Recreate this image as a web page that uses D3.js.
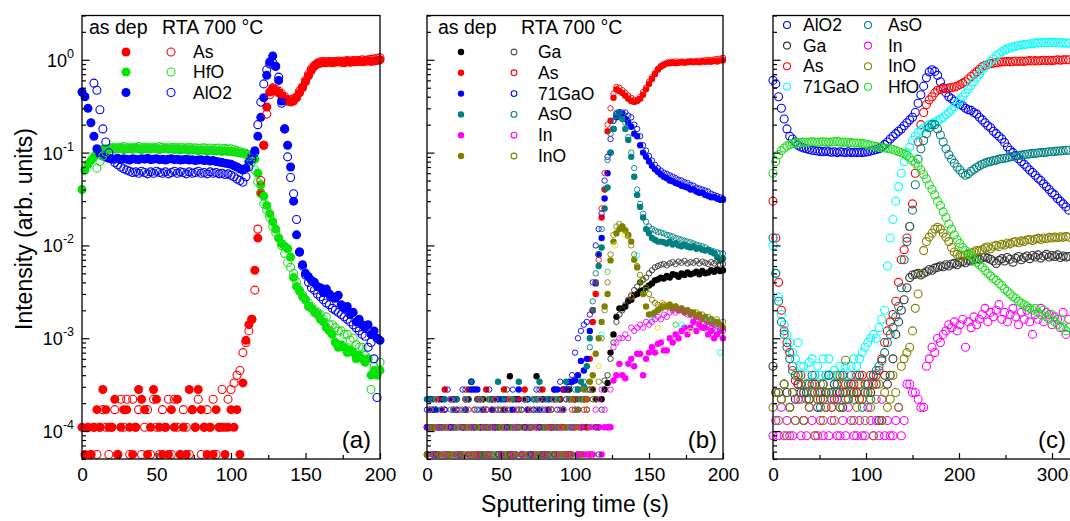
<!DOCTYPE html>
<html><head><meta charset="utf-8">
<script src="https://cdn.jsdelivr.net/npm/d3@7"></script>
<style>body{margin:0;background:#fff}</style>
</head><body><svg id="chart" width="1070" height="521"></svg>
<script>
// ---------- sampling times ----------
const time2s = [0,2,4,6,8,10,12,14,16,18,20,22,24,26,28,30,32,34,36,38,40,42,44,46,48,50,52,54,56,58,60,62,64,66,68,70,72,74,76,78,80,82,84,86,88,90,92,94,96,98,100,102,104,106,108,110,112,114,116,118,120,122,124,126,128,130,132,134,136,138,140,142,144,146,148,150,152,154,156,158,160,162,164,166,168,170,172,174,176,178,180,182,184,186,188,190,192,194,196,198,200];
const time3s = [0,3,6,9,12,15,18,21,24,27,30,33,36,39,42,45,48,51,54,57,60,63,66,69,72,75,78,81,84,87,90,93,96,99,102,105,108,111,114,117,120,123,126,129,132,135,138,141,144,147,150,153,156,159,162,165,168,171,174,177,180,183,186,189,192,195,198,201,204,207,210,213,216,219,222,225,228,231,234,237,240,243,246,249,252,255,258,261,264,267,270,273,276,279,282,285,288,291,294,297,300,303,306,309,312,315,318];

// ---------- panel (a) ----------
const aAlO2Dep = [0.45,0.40,0.30,0.21,0.15,0.11,0.097,0.092,0.089,0.087,
0.086,0.085,0.087,0.084,0.086,0.085,0.083,0.086,0.085,0.084,0.086,0.085,0.087,0.084,0.085,0.086,0.084,0.085,0.083,0.085,0.086,0.084,0.085,0.083,0.084,0.085,0.083,0.084,0.082,0.083,0.084,0.082,0.083,0.081,0.082,
0.08,0.079,0.078,0.077,0.076,0.075,0.072,0.07,0.067,0.065,0.068,0.08,0.092,0.105,0.15,0.24,0.39,0.68,0.95,1.1,0.85,0.6,0.36,0.18,0.12,0.07,0.03,0.013,0.0085,0.0062,0.005,0.0046,0.0042,0.004,0.0036,0.0035,0.0031,0.0034,0.003,0.0028,0.0027,0.0029,0.0023,0.0021,0.0022,0.0018,0.0019,0.0015,0.0016,0.0014,0.0013,0.0014,0.0011,0.0012,0.001,0.00095];
const aAlO2Rta = [null,null,null,null,0.56,0.47,0.29,0.18,0.13,0.1,0.085,0.078,0.074,0.07,0.067,0.065,
0.063,0.061,0.062,0.06,0.063,0.061,0.059,0.062,0.06,0.063,0.061,0.06,0.062,0.059,0.061,0.063,0.06,0.062,0.061,0.059,0.062,0.06,0.061,0.063,0.06,0.061,0.059,0.062,0.06,0.061,0.059,0.06,0.058,0.059,
0.057,0.055,0.052,0.05,0.048,0.055,0.07,0.085,0.1,0.2,0.35,0.55,0.78,0.9,0.93,0.85,0.65,0.34,0.18,0.09,0.054,0.036,0.019,0.0085,0.006,0.0048,0.004,0.0035,0.0033,0.003,0.0028,0.0026,0.0024,0.0023,0.0021,0.002,0.0019,0.0018,0.0017,0.0016,0.0015,0.0014,0.0013,0.0012,0.0011,0.00105,0.0008,0.0009,0.0006,0.00023,null];
const aHfODep = [0.04,0.065,0.075,0.082,0.09,0.1,0.105,0.108,0.11,0.11,
0.111,0.109,0.11,0.112,0.108,0.11,0.111,0.109,0.112,0.11,0.108,0.111,0.11,0.109,0.112,0.11,0.108,0.11,0.111,0.109,0.11,0.108,0.109,0.107,0.109,0.108,0.106,0.108,0.107,0.105,0.107,0.106,0.104,0.106,0.105,0.104,0.105,0.103,0.104,0.103,
0.103,0.102,0.1,0.099,0.098,0.096,0.094,0.09,0.085,0.06,0.045,0.034,0.027,0.022,0.018,0.015,0.012,0.0105,0.0098,0.0092,0.0075,0.0045,0.0036,0.0032,0.0028,0.0026,0.0022,0.0021,0.0019,0.0018,0.0016,0.0015,0.0013,0.0012,0.0011,0.0009,0.0008,0.00085,0.0008,0.0007,0.00075,0.0007,0.0006,0.00065,0.0006,0.00055,0.0006,0.0004,0.00045,0.0004,0.00045];
const aHfORta = [null,null,null,null,null,0.068,0.08,0.092,0.1,0.108,
0.113,0.115,0.112,0.114,0.116,0.113,0.115,0.112,0.114,0.116,0.113,0.115,0.114,0.112,0.115,0.113,0.116,0.114,0.112,0.115,0.113,0.114,0.112,0.115,0.113,0.112,0.114,0.112,0.113,0.111,0.112,0.113,0.111,0.112,0.11,0.111,0.112,0.11,0.111,0.109,0.11,
0.108,0.105,0.102,0.1,0.098,0.09,0.08,0.065,0.048,0.036,0.028,0.024,0.02,0.016,0.0138,0.012,0.01,0.0082,0.0065,0.0058,0.005,0.004,0.0033,0.0029,0.0026,0.0024,0.0022,0.002,0.0019,0.0018,0.0016,0.0017,0.0014,0.0014,0.0013,0.0012,0.0012,0.0011,0.0011,0.00095,0.001,0.00085,0.0008,0.0008,0.00065,0.0006,0.00028,0.0005,0.00045,0.00055];
const aAsDep = [1.1e-4,5.6e-5,1.1e-4,5.6e-5,1.1e-4,1.7e-4,1.1e-4,2.8e-4,1.7e-4,1.1e-4,
1.1e-4,2.2e-4,5.6e-5,1.1e-4,1.7e-4,1.7e-4,1.1e-4,5.6e-5,1.1e-4,2.8e-4,
2.2e-4,1.7e-4,5.6e-5,1.1e-4,2.8e-4,2.2e-4,1.1e-4,5.6e-5,1.1e-4,5.6e-5,
1.7e-4,1.1e-4,2.2e-4,5.6e-5,1.1e-4,5.6e-5,2.8e-4,1.7e-4,1.1e-4,2.8e-4,
1.7e-4,1.1e-4,5.6e-5,1.1e-4,5.6e-5,1.7e-4,1.1e-4,1.1e-4,5.6e-5,1.1e-4,
1.7e-4,1.1e-4,1.7e-4,5.6e-5,
3.3e-4,9.5e-4,1.4e-3,1.6e-3,5.4e-3,0.012,0.037,0.12,0.31,0.45,0.49,0.46,0.44,0.41,0.38,0.36,0.35,0.36,0.39,0.44,0.5,0.58,0.67,0.77,0.85,0.9,0.92,0.93,0.93,0.94,0.93,0.94,0.95,0.94,0.93,0.95,0.94,0.95,0.95,0.96,0.95,0.96,0.97,0.96,0.97,0.98,1.0];
const aAsRta = [null,null,null,
5.6e-5,1.1e-4,5.6e-5,1.1e-4,1.7e-4,1.1e-4,5.6e-5,1.1e-4,1.7e-4,5.6e-5,
2.2e-4,1.1e-4,2.2e-4,5.6e-5,2.2e-4,1.1e-4,1.7e-4,5.6e-5,1.1e-4,1.7e-4,
5.6e-5,2.2e-4,1.1e-4,5.6e-5,1.7e-4,1.1e-4,2.2e-4,5.6e-5,2.2e-4,1.1e-4,
5.6e-5,1.7e-4,1.1e-4,5.6e-5,1.7e-4,1.1e-4,2.2e-4,5.6e-5,1.1e-4,1.7e-4,
1.1e-4,2.2e-4,5.6e-5,1.1e-4,2.8e-4,1.1e-4,2.2e-4,2.8e-4,
3.3e-4,4e-4,4.5e-4,7e-4,9e-4,1.2e-3,1.6e-3,3.3e-3,0.015,0.05,0.12,0.26,0.42,0.5,0.48,0.46,0.43,0.4,0.37,0.37,0.38,0.4,0.46,0.51,0.6,0.7,0.8,0.87,0.92,0.95,0.96,0.95,0.96,0.95,0.96,0.97,0.96,0.97,0.98,0.97,0.98,0.99,0.98,1.0,0.99,1.0,1.01,1.02,1.04,1.05];

// ---------- panel (b) ----------
const bGaDep = [1.1e-4,2.2e-4,1.1e-4,5.6e-5,1.1e-4,2.2e-4,1.1e-4,5.6e-5,1.1e-4,1.1e-4,
2.2e-4,5.6e-5,1.1e-4,1.1e-4,2.2e-4,3.4e-4,1.1e-4,5.6e-5,1.1e-4,2.2e-4,
1.1e-4,1.1e-4,2.2e-4,5.6e-5,1.1e-4,2.2e-4,1.1e-4,5.6e-5,3.9e-4,1.1e-4,
2.2e-4,1.1e-4,5.6e-5,2.2e-4,1.1e-4,1.1e-4,5.6e-5,3.9e-4,1.1e-4,2.2e-4,
1.1e-4,5.6e-5,1.1e-4,2.2e-4,1.1e-4,2.2e-4,5.6e-5,1.1e-4,2.8e-4,1.1e-4,
2.2e-4,5.6e-5,1.1e-4,2.2e-4,1.1e-4,5.6e-5,2.8e-4,2.2e-4,1.1e-4,2.2e-4,2.8e-4,
3.3e-4,7e-4,1.1e-3,1.7e-3,2.1e-3,2.1e-3,2.2e-3,2.5e-3,2.6e-3,2.9e-3,3e-3,3.2e-3,3.3e-3,3.5e-3,3.7e-3,3.9e-3,4.2e-3,4.3e-3,4.5e-3,4.4e-3,4.7e-3,4.5e-3,4.9e-3,4.8e-3,4.6e-3,5e-3,4.8e-3,5.1e-3,4.9e-3,5e-3,5.2e-3,4.9e-3,5.3e-3,5e-3,5.1e-3,5.4e-3,5.2e-3,5.5e-3,5.3e-3,5.4e-3];
const bGaRta = [5.6e-5,1.1e-4,1.7e-4,5.6e-5,2.2e-4,1.1e-4,1.7e-4,5.6e-5,1.1e-4,2.2e-4,
5.6e-5,1.7e-4,1.1e-4,2.8e-4,5.6e-5,1.1e-4,1.7e-4,2.2e-4,5.6e-5,1.1e-4,
1.7e-4,5.6e-5,2.2e-4,1.1e-4,5.6e-5,1.7e-4,1.1e-4,2.8e-4,5.6e-5,2.2e-4,
1.1e-4,1.7e-4,5.6e-5,1.1e-4,2.2e-4,5.6e-5,1.7e-4,1.1e-4,2.8e-4,5.6e-5,
2.2e-4,1.1e-4,1.7e-4,5.6e-5,1.1e-4,2.2e-4,1.7e-4,5.6e-5,2.8e-4,1.1e-4,
1.7e-4,2.2e-4,5.6e-5,1.1e-4,1.7e-4,2.8e-4,2.2e-4,1.1e-4,5.6e-5,1.7e-4,
3.5e-4,4e-4,6e-4,9e-4,1.5e-3,1.8e-3,2e-3,2.3e-3,2.6e-3,2.9e-3,3.3e-3,3.6e-3,4e-3,4.3e-3,4.5e-3,5e-3,5.4e-3,5.8e-3,6e-3,6.2e-3,6.3e-3,6.1e-3,6.4e-3,6.6e-3,6.3e-3,6.7e-3,6.5e-3,6.8e-3,6.4e-3,6.6e-3,6.5e-3,6.8e-3,6.4e-3,6.7e-3,6.5e-3,6.3e-3,6.6e-3,6.4e-3,6.7e-3,6.2e-3,6.3e-3];
const bAsDep = [1.1e-4,2.2e-4,1.1e-4,5.6e-5,2.2e-4,1.1e-4,2.8e-4,5.6e-5,1.1e-4,2.2e-4,
1.1e-4,5.6e-5,1.1e-4,2.2e-4,2.8e-4,1.1e-4,5.6e-5,2.2e-4,1.1e-4,5.6e-5,
2.8e-4,1.1e-4,2.2e-4,1.1e-4,5.6e-5,1.1e-4,2.8e-4,2.2e-4,1.1e-4,5.6e-5,
1.1e-4,2.2e-4,1.1e-4,2.8e-4,5.6e-5,1.1e-4,2.2e-4,1.1e-4,5.6e-5,2.8e-4,
1.1e-4,2.2e-4,1.1e-4,5.6e-5,1.1e-4,2.2e-4,2.8e-4,1.1e-4,5.6e-5,2.2e-4,
1.1e-4,2.8e-4,1.1e-4,2.2e-4,1.1e-4,
6e-4,1.5e-3,3e-3,8e-3,0.02,0.04,0.17,0.22,0.39,0.48,0.46,0.44,0.41,0.38,0.36,0.35,0.36,0.38,0.42,0.48,0.55,0.62,0.7,0.78,0.84,0.88,0.91,0.92,0.93,0.92,0.93,0.94,0.93,0.94,0.95,0.94,0.95,0.94,0.96,0.95,0.96,0.95,0.97,0.96,0.98,0.99];
const bAsRta = [5.6e-5,1.7e-4,1.1e-4,2.2e-4,5.6e-5,1.1e-4,1.7e-4,5.6e-5,2.2e-4,1.1e-4,
1.7e-4,5.6e-5,1.1e-4,2.2e-4,1.7e-4,5.6e-5,1.1e-4,5.6e-5,2.2e-4,1.7e-4,
1.1e-4,5.6e-5,1.7e-4,2.2e-4,1.1e-4,5.6e-5,1.7e-4,1.1e-4,2.2e-4,5.6e-5,
1.7e-4,1.1e-4,5.6e-5,2.2e-4,1.7e-4,1.1e-4,5.6e-5,1.7e-4,1.1e-4,2.2e-4,
5.6e-5,1.7e-4,1.1e-4,2.2e-4,5.6e-5,1.7e-4,1.1e-4,2.8e-4,5.6e-5,1.7e-4,
2.2e-4,1.1e-4,5.6e-5,1.7e-4,2.2e-4,2.8e-4,
2e-3,4e-3,7e-3,0.025,0.06,0.2,0.3,0.43,0.51,0.5,0.47,0.44,0.41,0.39,0.37,0.37,0.4,0.45,0.5,0.58,0.65,0.72,0.8,0.86,0.9,0.93,0.95,0.95,0.96,0.95,0.96,0.95,0.96,0.97,0.96,0.97,0.98,0.98,0.99,1.0,0.99,1.01,1.02,1.03,1.05];
const bGaODep = [1.1e-4,1.7e-4,1.7e-4,1.7e-4,1.1e-4,1.7e-4,5.6e-5,1.1e-4,2.2e-4,1.7e-4,
1.1e-4,5.6e-5,1.1e-4,1.7e-4,1.1e-4,2.8e-4,2.8e-4,2.8e-4,1.1e-4,1.7e-4,
5.6e-5,1.1e-4,1.7e-4,1.1e-4,2.2e-4,5.6e-5,1.7e-4,1.1e-4,5.6e-5,1.7e-4,
1.1e-4,2.8e-4,5.6e-5,1.1e-4,1.7e-4,1.1e-4,5.6e-5,2.2e-4,1.7e-4,1.1e-4,
5.6e-5,1.7e-4,1.1e-4,2.8e-4,2.8e-4,1.1e-4,1.7e-4,2.8e-4,3.4e-4,
3.4e-4,3.5e-4,4e-4,5.7e-4,4.5e-4,6e-4,1.2e-3,2e-3,3.9e-3,8e-3,0.012,0.032,0.06,0.1,0.18,0.24,0.27,0.26,0.23,0.21,0.19,0.16,0.15,0.12,0.1,0.09,0.08,0.072,0.066,0.062,0.058,0.055,0.053,0.05,0.049,0.047,0.046,0.044,0.043,0.042,0.04,0.04,0.038,0.037,0.037,0.035,0.034,0.033,0.033,0.032,0.031,0.031];
const bGaORta = [1.7e-4,2.2e-4,5.6e-5,1.7e-4,1.1e-4,2.2e-4,1.7e-4,2.8e-4,1.1e-4,2.2e-4,
1.7e-4,5.6e-5,2.8e-4,1.7e-4,2.2e-4,3.4e-4,1.1e-4,1.7e-4,2.2e-4,5.6e-5,
1.7e-4,2.8e-4,1.1e-4,2.2e-4,1.7e-4,5.6e-5,2.2e-4,1.1e-4,1.7e-4,2.8e-4,
5.6e-5,2.2e-4,1.7e-4,1.1e-4,2.2e-4,5.6e-5,1.7e-4,2.8e-4,1.1e-4,2.2e-4,
1.7e-4,5.6e-5,2.2e-4,2.8e-4,1.7e-4,3.4e-4,2.8e-4,2.2e-4,
3e-4,4e-4,7e-4,1e-3,1.2e-3,1.4e-3,1.5e-3,1.8e-3,4e-3,0.01,0.015,0.022,0.05,0.09,0.14,0.22,0.26,0.27,0.27,0.27,0.25,0.24,0.2,0.18,0.15,0.12,0.105,0.092,0.082,0.074,0.068,0.064,0.061,0.059,0.057,0.055,0.053,0.051,0.05,0.048,0.047,0.045,0.044,0.042,0.041,0.04,0.039,0.038,0.036,0.035,0.034,0.033,0.032];
const bAsODep = [2.2e-4,1.1e-4,2.2e-4,1.1e-4,5.6e-5,1.1e-4,2.2e-4,1.1e-4,5.6e-5,1.1e-4,
2.2e-4,1.1e-4,5.6e-5,2.2e-4,1.1e-4,3.4e-4,1.1e-4,5.6e-5,2.2e-4,1.1e-4,
1.1e-4,2.2e-4,5.6e-5,1.1e-4,3.4e-4,1.1e-4,2.2e-4,5.6e-5,1.1e-4,2.2e-4,
1.1e-4,3.4e-4,5.6e-5,1.1e-4,2.2e-4,1.1e-4,5.6e-5,2.2e-4,3.4e-4,1.1e-4,
5.6e-5,2.2e-4,1.1e-4,1.1e-4,2.2e-4,5.6e-5,1.1e-4,3.4e-4,2.2e-4,1.1e-4,
2.2e-4,2.8e-4,3.4e-4,
3e-4,5e-4,1e-3,2e-3,4e-3,6e-3,9.5e-3,0.025,0.042,0.1,0.18,0.25,0.27,0.23,0.18,0.137,0.09,0.055,0.035,0.026,0.02,0.015,0.0135,0.012,0.0115,0.011,0.011,0.0108,0.0105,0.011,0.0102,0.0105,0.01,0.0098,0.0102,0.0097,0.0095,0.0098,0.0092,0.0094,0.009,0.0088,0.009,0.0085,0.0082,0.0075,0.0069,0.0072];
const bAsORta = [5.6e-5,1.1e-4,2.2e-4,1.7e-4,5.6e-5,1.1e-4,2.2e-4,5.6e-5,1.7e-4,1.1e-4,
2.2e-4,5.6e-5,1.1e-4,1.7e-4,2.2e-4,5.6e-5,1.1e-4,2.2e-4,1.7e-4,5.6e-5,
1.1e-4,2.2e-4,5.6e-5,1.7e-4,1.1e-4,2.2e-4,5.6e-5,1.7e-4,1.1e-4,2.2e-4,
5.6e-5,1.1e-4,1.7e-4,2.2e-4,5.6e-5,1.1e-4,2.2e-4,1.7e-4,5.6e-5,1.1e-4,
2.2e-4,5.6e-5,1.7e-4,1.1e-4,2.2e-4,5.6e-5,1.7e-4,2.2e-4,1.1e-4,5.6e-5,
2.8e-4,1.7e-4,2.2e-4,3.4e-4,2.8e-4,
8e-4,2.5e-3,5e-3,8e-3,0.015,0.04,0.083,0.16,0.22,0.27,0.27,0.25,0.21,0.147,0.1,0.068,0.04,0.028,0.022,0.018,0.016,0.015,0.0145,0.014,0.0138,0.0135,0.013,0.0128,0.0125,0.012,0.0118,0.0115,0.0112,0.011,0.0108,0.0105,0.0102,0.01,0.0098,0.0095,0.009,0.0088,0.0086,0.0084,0.0082,0.0082];
const bInDep = [5.6e-5,1.1e-4,5.6e-5,1.1e-4,5.6e-5,5.6e-5,1.1e-4,5.6e-5,1.1e-4,5.6e-5,
1.1e-4,5.6e-5,5.6e-5,1.1e-4,5.6e-5,1.1e-4,5.6e-5,1.1e-4,5.6e-5,5.6e-5,
1.1e-4,5.6e-5,1.1e-4,5.6e-5,1.1e-4,5.6e-5,5.6e-5,1.1e-4,5.6e-5,1.1e-4,
5.6e-5,1.1e-4,5.6e-5,5.6e-5,1.1e-4,5.6e-5,1.1e-4,5.6e-5,1.1e-4,5.6e-5,
5.6e-5,1.1e-4,5.6e-5,1.1e-4,5.6e-5,1.1e-4,5.6e-5,5.6e-5,1.1e-4,5.6e-5,
1.1e-4,5.6e-5,1.1e-4,5.6e-5,5.6e-5,1.1e-4,5.6e-5,1.1e-4,1.1e-4,5.6e-5,
1.1e-4,1.1e-4,1.1e-4,
3.5e-4,4e-4,5.3e-4,4e-4,3.7e-4,5.3e-4,6e-4,5e-4,6.8e-4,6.8e-4,4e-4,6e-4,7e-4,8e-4,7e-4,8.7e-4,9e-4,7.4e-4,7.4e-4,1e-3,9e-4,1.1e-3,1e-3,1.2e-3,1.3e-3,1.1e-3,1.3e-3,1.5e-3,1.2e-3,1.4e-3,1.3e-3,1.3e-3,1.1e-3,1.2e-3,1e-3,1.1e-3,1.2e-3,1e-3];
const bInRta = [1.1e-4,1.7e-4,5.6e-5,2.2e-4,1.1e-4,1.7e-4,5.6e-5,1.1e-4,2.2e-4,1.7e-4,
5.6e-5,1.1e-4,1.7e-4,2.2e-4,5.6e-5,1.1e-4,1.7e-4,5.6e-5,2.2e-4,1.1e-4,
1.7e-4,5.6e-5,1.1e-4,2.2e-4,1.7e-4,5.6e-5,1.1e-4,1.7e-4,2.2e-4,5.6e-5,
1.1e-4,1.7e-4,5.6e-5,2.2e-4,1.1e-4,1.7e-4,5.6e-5,1.1e-4,2.2e-4,1.7e-4,
5.6e-5,1.1e-4,1.7e-4,2.2e-4,5.6e-5,1.1e-4,1.7e-4,5.6e-5,2.2e-4,1.1e-4,
1.7e-4,5.6e-5,1.1e-4,2.2e-4,1.7e-4,5.6e-5,1.1e-4,1.7e-4,2.2e-4,2.8e-4,
1.7e-4,1.1e-4,2.8e-4,
8e-4,9e-4,1e-3,1e-3,1.1e-3,1e-3,1.3e-3,1.2e-3,1.3e-3,1.4e-3,1.3e-3,1.5e-3,1.4e-3,1.5e-3,1.6e-3,1.7e-3,1.6e-3,1.8e-3,1.7e-3,1.9e-3,2e-3,1.9e-3,2e-3,2e-3,1.9e-3,1.8e-3,1.9e-3,1.7e-3,1.6e-3,1.7e-3,1.5e-3,1.6e-3,1.4e-3,1.3e-3,1.4e-3,1.2e-3,1.3e-3,1.2e-3];
const bInODep = [5.6e-5,1.1e-4,5.6e-5,1.1e-4,5.6e-5,1.1e-4,5.6e-5,1.1e-4,5.6e-5,5.6e-5,
1.1e-4,5.6e-5,1.1e-4,5.6e-5,1.1e-4,5.6e-5,5.6e-5,1.1e-4,5.6e-5,1.1e-4,
5.6e-5,1.1e-4,5.6e-5,5.6e-5,1.1e-4,5.6e-5,1.1e-4,5.6e-5,1.1e-4,5.6e-5,
5.6e-5,1.1e-4,5.6e-5,1.1e-4,5.6e-5,1.1e-4,5.6e-5,5.6e-5,1.1e-4,5.6e-5,
1.1e-4,5.6e-5,1.1e-4,5.6e-5,5.6e-5,1.1e-4,5.6e-5,1.1e-4,5.6e-5,2.2e-4,
1.1e-4,1.7e-4,2.2e-4,2.8e-4,2.2e-4,3.4e-4,
4e-4,6.8e-4,1e-3,1.5e-3,2.2e-3,3e-3,6.9e-3,0.011,0.0135,0.015,0.016,0.0145,0.013,0.011,0.007,0.0058,0.004,0.003,0.0022,0.0018,0.0018,0.0019,0.002,0.0021,0.0022,0.0022,0.0023,0.0021,0.0022,0.002,0.0021,0.0019,0.002,0.0018,0.0019,0.0017,0.0018,0.0016,0.0017,0.0015,0.0016,0.0014,0.0015,0.0014,0.0013];
const bInORta = [5.6e-5,1.7e-4,1.1e-4,2.2e-4,5.6e-5,1.7e-4,1.1e-4,5.6e-5,2.2e-4,1.7e-4,
1.1e-4,5.6e-5,1.7e-4,2.2e-4,1.1e-4,5.6e-5,1.7e-4,1.1e-4,2.2e-4,5.6e-5,
1.7e-4,1.1e-4,5.6e-5,2.2e-4,1.7e-4,1.1e-4,5.6e-5,1.7e-4,2.2e-4,1.1e-4,
5.6e-5,1.7e-4,1.1e-4,2.2e-4,5.6e-5,1.7e-4,1.1e-4,5.6e-5,2.2e-4,1.7e-4,
1.1e-4,5.6e-5,1.7e-4,2.2e-4,1.1e-4,5.6e-5,1.7e-4,1.1e-4,2.2e-4,5.6e-5,
1.7e-4,1.1e-4,5.6e-5,2.2e-4,1.7e-4,1.1e-4,2.8e-4,2.2e-4,3.4e-4,
1e-3,2e-3,4e-3,8e-3,0.013,0.016,0.017,0.016,0.0145,0.0125,0.01,0.008,0.006,0.0048,0.0042,0.0035,0.003,0.0026,0.0024,0.0023,0.0022,0.0023,0.0022,0.0023,0.0021,0.0022,0.002,0.0021,0.0019,0.002,0.0019,0.0018,0.0019,0.0017,0.0018,0.0016,0.0017,0.0016,0.0015,0.0016,0.0014,0.0015];
// extra unlabelled species seen in (b): [time, intensity]
const bCyanPts = [[20,1.1e-4],[46,5.6e-5],[70,2.2e-4],[96,1.1e-4],[118,1.1e-3],[142,7.8e-3],[152,1.6e-3],[172,1.4e-3],[190,1.6e-3],[196,1.3e-3],[198,7e-4]];
const bYellowPts = [[30,5.6e-5],[60,1.1e-4],[88,2.2e-4],[116,5e-4],[127,0.01],[134,0.013],[156,1.3e-3],[178,1.2e-3]];
const bGreenPts = [[16,2.2e-4],[50,1.1e-4],[84,5.6e-5],[104,2.2e-4],[122,5.2e-3],[148,3.3e-3],[168,1.4e-3]];
const bOrangePts = [[40,2.2e-4],[76,1.1e-4],[110,5.6e-5],[138,2.8e-3],[159,2.4e-3],[186,1.5e-3]];

// ---------- panel (c) ----------
const cAlO2 = [0.6,0.55,0.4,0.3,0.23,0.18,0.15,0.14,0.13,0.12,0.115,0.112,0.11,0.108,0.106,0.105,0.104,0.103,0.102,0.104,0.102,0.101,0.102,0.1,0.102,0.101,0.1,0.102,0.1,0.101,0.1,0.101,0.1,0.101,0.102,0.104,0.106,0.108,0.11,0.115,0.122,0.13,0.14,0.15,0.16,0.17,0.18,0.195,0.21,0.225,0.24,0.27,0.34,0.42,0.52,0.64,0.74,0.78,0.75,0.68,0.58,0.5,0.44,0.4,0.38,0.36,0.34,0.33,0.32,0.3,0.29,0.285,0.27,0.26,0.24,0.225,0.21,0.195,0.185,0.17,0.16,0.15,0.14,0.128,0.115,0.106,0.1,0.093,0.086,0.08,0.075,0.07,0.065,0.061,0.057,0.053,0.05,0.046,0.043,0.04,0.037,0.035,0.032,0.03,0.028,0.026,0.024];
const cGa = [5e-4,
2.6e-4,2.6e-4,2.2e-4,3.2e-4,2.6e-4,1.8e-4,2.6e-4,2.2e-4,3.2e-4,2.6e-4,
1.3e-4,2.6e-4,2.2e-4,2.6e-4,3.2e-4,1.8e-4,2.6e-4,2.2e-4,2.6e-4,4e-4,
2.6e-4,2.2e-4,3.2e-4,2.6e-4,1.8e-4,2.6e-4,2.2e-4,3.2e-4,2.6e-4,2.6e-4,
4e-4,2.2e-4,2.6e-4,3.2e-4,2.6e-4,4e-4,3.2e-4,1.3e-4,1.3e-4,4e-4,3.2e-4,4e-4,
0.0006,0.0011,0.0015,0.002,0.0026,0.0035,0.0045,0.0048,0.0049,0.005,0.0048,0.005,0.0052,0.0055,0.0054,0.0057,0.0058,0.006,0.0059,0.0062,0.006,0.0063,0.0064,0.0062,0.0066,0.0067,0.0065,0.0069,0.0068,0.007,0.0072,0.0071,0.0074,0.0075,0.0073,0.0071,0.0068,0.0064,0.0069,0.0072,0.0068,0.0074,0.0071,0.0066,0.0073,0.0076,0.007,0.0074,0.0077,0.0072,0.0078,0.0075,0.0079,0.0073,0.0077,0.008,0.0075,0.0078,0.0076,0.0079,0.0074,0.0077,0.0075,0.0076];
const cAs = [0.03,0.012,0.004,0.002,0.0012,0.0009,0.0007,0.0005,0.00035,
3.2e-4,4e-4,2.6e-4,3.2e-4,2.2e-4,3.2e-4,4e-4,2.6e-4,2.2e-4,3.2e-4,
4e-4,2.6e-4,1.8e-4,3.2e-4,2.2e-4,4e-4,2.6e-4,3.2e-4,2.2e-4,4e-4,
3.2e-4,2.6e-4,2.2e-4,4e-4,3.2e-4,2.6e-4,4e-4,3.2e-4,4e-4,
0.00045,0.0006,0.0009,0.0012,0.0015,0.0018,0.0025,0.004,0.007,0.009,0.012,0.016,0.028,0.06,0.13,0.2,0.27,0.33,0.37,0.4,0.44,0.47,0.48,0.49,0.49,0.5,0.5,0.51,0.52,0.54,0.56,0.58,0.62,0.66,0.7,0.74,0.79,0.84,0.87,0.89,0.91,0.92,0.93,0.94,0.95,0.95,0.96,0.95,0.96,0.97,0.96,0.97,0.96,0.97,0.98,0.97,0.98,0.97,0.98,0.99,0.98,0.99,0.98,0.99,1.0,0.99,1.0,1.0,1.0];
const cGaO71 = [0.01,0.005,0.0028,0.0018,0.0014,0.0011,0.0009,0.0007,0.0006,0.0009,0.0005,0.0005,0.0004,0.00055,0.0006,0.0004,0.0005,0.0004,0.0006,0.0004,0.0006,0.0004,0.00045,0.0004,0.0005,0.0004,0.0005,0.0004,0.0005,0.0006,0.0005,0.0006,0.0007,0.0008,0.0009,0.001,0.0011,0.001,0.0013,0.0016,0.002,0.006,0.012,0.019,0.03,0.043,0.06,0.08,0.1,0.115,0.135,0.15,0.165,0.175,0.185,0.19,0.2,0.205,0.21,0.22,0.23,0.24,0.255,0.27,0.29,0.31,0.34,0.37,0.4,0.44,0.48,0.53,0.58,0.64,0.7,0.77,0.84,0.9,0.96,1.02,1.1,1.16,1.22,1.27,1.31,1.35,1.38,1.4,1.42,1.44,1.46,1.47,1.49,1.5,1.51,1.52,1.52,1.53,1.53,1.54,1.53,1.54,1.53,1.52,1.52,1.51,1.51];
const cAsO = [0.012,0.005,0.0025,0.0015,0.0011,0.0008,0.0006,0.00045,0.0004,
4e-4,3.2e-4,2.6e-4,2.2e-4,3.2e-4,4e-4,2.6e-4,2.2e-4,1.8e-4,3.2e-4,
2.6e-4,4e-4,2.2e-4,3.2e-4,2.6e-4,1.8e-4,4e-4,2.2e-4,3.2e-4,2.6e-4,
2.2e-4,4e-4,3.2e-4,1.8e-4,2.6e-4,3.2e-4,2.2e-4,4e-4,
0.00045,0.0005,0.00057,0.0007,0.0009,0.0011,0.0013,0.0017,0.0022,0.0035,0.007,0.011,0.016,0.024,0.045,0.085,0.11,0.135,0.16,0.185,0.2,0.2,0.18,0.155,0.13,0.11,0.095,0.085,0.077,0.07,0.065,0.06,0.057,0.059,0.063,0.066,0.069,0.072,0.075,0.077,0.079,0.08,0.082,0.083,0.085,0.086,0.087,0.088,0.09,0.091,0.092,0.093,0.094,0.095,0.096,0.097,0.098,0.098,0.099,0.1,0.1,0.101,0.102,0.102,0.103,0.104,0.104,0.105,0.106,0.106];
const cIn = [8.9e-5,1.3e-4,8.9e-5,1.8e-4,8.9e-5,1.3e-4,8.9e-5,8.9e-5,1.3e-4,2.2e-4,
8.9e-5,1.3e-4,8.9e-5,1.8e-4,1.3e-4,8.9e-5,8.9e-5,1.3e-4,8.9e-5,1.8e-4,
8.9e-5,1.3e-4,2.2e-4,8.9e-5,8.9e-5,1.3e-4,8.9e-5,1.8e-4,1.3e-4,8.9e-5,
8.9e-5,1.3e-4,8.9e-5,8.9e-5,1.8e-4,1.3e-4,8.9e-5,1.3e-4,8.9e-5,2.2e-4,
8.9e-5,1.3e-4,8.9e-5,8.9e-5,1.3e-4,1.8e-4,8.9e-5,1.3e-4,3.2e-4,3.2e-4,
2.6e-4,2.6e-4,2.2e-4,1.8e-4,
0.00018,0.0005,0.0006,0.0008,0.0007,0.001,0.0009,0.0011,0.0012,0.0014,0.0013,0.0015,0.0012,0.0014,0.0016,0.0008,0.0015,0.0013,0.0017,0.0014,0.0016,0.0018,0.0021,0.0015,0.0019,0.0017,0.002,0.0023,0.0016,0.0019,0.0015,0.0018,0.0021,0.0017,0.0014,0.0019,0.0016,0.002,0.0015,0.0011,0.0018,0.0016,0.0021,0.0015,0.0019,0.0018,0.0014,0.0017,0.0016,0.0013,0.0019,0.0011,0.0016];
const cInO = [1.8e-4,2.6e-4,1.3e-4,2.2e-4,3.2e-4,8.9e-5,1.8e-4,2.6e-4,1.3e-4,4e-4,
2.2e-4,1.3e-4,3.2e-4,1.8e-4,2.6e-4,8.9e-5,2.2e-4,3.2e-4,1.3e-4,1.8e-4,
2.6e-4,2.2e-4,1.3e-4,4e-4,1.8e-4,3.2e-4,5.8e-4,2.2e-4,2.6e-4,1.3e-4,
1.8e-4,3.2e-4,2.2e-4,1.3e-4,2.6e-4,1.8e-4,8.9e-5,2.2e-4,3.2e-4,1.3e-4,
2.6e-4,1.8e-4,2.2e-4,4e-4,2.6e-4,1.8e-4,
0.0005,0.0006,0.0007,0.0008,0.0012,0.0021,0.003,0.0049,0.0088,0.011,0.0123,0.0135,0.015,0.0157,0.015,0.0135,0.0123,0.011,0.0095,0.0085,0.008,0.0078,0.0077,0.0079,0.008,0.0083,0.0085,0.0088,0.0087,0.009,0.0094,0.0096,0.0092,0.0098,0.01,0.0097,0.0103,0.0101,0.0106,0.0104,0.0108,0.011,0.0107,0.0112,0.011,0.0114,0.0116,0.0113,0.0117,0.0119,0.0116,0.012,0.0118,0.0122,0.012,0.0123,0.0121,0.0124,0.0122,0.0125,0.0123];
const cHfO = [0.06,0.08,0.095,0.105,0.112,0.118,0.122,0.125,0.127,0.128,0.128,0.13,0.129,0.13,0.131,0.13,0.129,0.13,0.131,0.13,0.129,0.13,0.131,0.132,0.13,0.129,0.13,0.128,0.128,0.127,0.127,0.126,0.125,0.124,0.122,0.12,0.118,0.116,0.115,0.113,0.112,0.111,0.11,0.108,0.105,0.102,0.1,0.097,0.093,0.088,0.082,0.077,0.072,0.065,0.058,0.052,0.045,0.04,0.035,0.03,0.027,0.023,0.02,0.017,0.015,0.013,0.0115,0.0105,0.0095,0.0088,0.0082,0.0078,0.0072,0.0066,0.0062,0.0058,0.0054,0.005,0.0047,0.0044,0.0042,0.0039,0.0037,0.0034,0.0032,0.003,0.0028,0.0027,0.0025,0.0024,0.0023,0.0022,0.0021,0.002,0.0021,0.0019,0.0018,0.002,0.0017,0.0016,0.0018,0.0015,0.0014,0.0016,0.0013,0.0012,0.0013];

// ---------- ticks / labels ----------
const yMajorTicks = [1e-4,1e-3,1e-2,1e-1,1];
const yTickExponents = ["-4","-3","-2","-1","0"];
const abXMajor = [0,50,100,150,200], abXMinor = [25,75,125,175];
const cXMajor = [0,100,200,300], cXMinor = [50,150,250];

// ---------- drawing ----------
const FONT = "'Liberation Sans', Arial, Helvetica, sans-serif";
const svg = d3.select("#chart").attr("font-family", FONT);
const TOP = 15.5, BOT = 459;
const y = d3.scaleLog().domain([5e-5, 3]).range([BOT, TOP]);
const yMinorTicks = [];
[1e-5,1e-4,1e-3,1e-2,1e-1,1].forEach(d => { for (let k = 2; k <= 9; k++) { const v = k*d; if (v >= 5e-5 && v <= 3) yMinorTicks.push(v); } });

const RED="#ff0000", BLUE="#0000ff", GREEN="#00e600", TEAL="#008080", MAG="#ff00ff", OLIVE="#808000", BLACK="#000000", CYAN="#00ffff", GREY="#333333";

function drawPanel(cfg) {
  const x = d3.scaleLinear().domain([0, cfg.xmax]).range([cfg.x0, cfg.x1]);
  const g = svg.append("g");
  cfg.series.forEach(s => {
    const pts = s.pairs ? s.pairs.map(p => ({t:p[0], v:p[1]})) :
      s.t.map((t,i) => ({t, v:s.v[i]})).filter(d => d.v != null);
    g.append("g").selectAll("circle").data(pts).join("circle")
      .attr("cx", d => x(d.t)).attr("cy", d => y(d.v))
      .attr("r", s.filled ? cfg.r : cfg.r - 0.5)
      .attr("fill", s.filled ? s.color : "none")
      .attr("stroke", s.color).attr("stroke-width", s.filled ? 0 : cfg.sw);
  });
  g.append("rect").attr("x", cfg.x0).attr("y", TOP).attr("width", cfg.x1 - cfg.x0).attr("height", BOT - TOP)
    .attr("fill", "none").attr("stroke", "#000").attr("stroke-width", 1.3);
  const ax = (axis, tr) => { const a = g.append("g").attr("transform", tr).call(axis); a.select(".domain").remove(); a.selectAll("line").attr("stroke","#000").attr("stroke-width",1.2); return a; };
  const xa = ax(d3.axisBottom(x).tickValues(cfg.xMajor).tickSize(-6).tickSizeOuter(0).tickPadding(9).tickFormat(d3.format("d")), `translate(0,${BOT})`);
  xa.selectAll("text").attr("font-size", 19).attr("font-family", FONT).attr("fill", "#000");
  ax(d3.axisBottom(x).tickValues(cfg.xMinor).tickSize(-4).tickSizeOuter(0).tickFormat(""), `translate(0,${BOT})`);
  ax(d3.axisLeft(y).tickValues(yMajorTicks).tickSize(-7.5).tickSizeOuter(0).tickFormat(""), `translate(${cfg.x0},0)`);
  ax(d3.axisLeft(y).tickValues(yMinorTicks).tickSize(-4).tickSizeOuter(0).tickFormat(""), `translate(${cfg.x0},0)`);
  if (cfg.yLabels) {
    yMajorTicks.forEach((v,i) => {
      const t = g.append("text").attr("x", cfg.x0 - 8).attr("y", y(v) + 7).attr("text-anchor","end").attr("font-size", 18);
      t.append("tspan").text("10");
      t.append("tspan").attr("dy", -9).attr("font-size", 12.5).text(yTickExponents[i]);
    });
  }
  g.append("text").attr("x", cfg.tagX).attr("y", 448).attr("text-anchor","end").attr("font-size", 24).text(cfg.tag);
  return g;
}

// panel a
const gA = drawPanel({x0:82, x1:380, xmax:200, xMajor:abXMajor, xMinor:abXMinor, r:4.5, sw:1.1, yLabels:true, tag:"(a)", tagX:371,
  series:[
    {t:time2s, v:aAsDep, color:RED, filled:true},
    {t:time2s, v:aHfODep, color:GREEN, filled:true},
    {t:time2s, v:aAlO2Dep, color:BLUE, filled:true},
    {t:time2s, v:aAsRta, color:RED, filled:false},
    {t:time2s, v:aHfORta, color:"#22dd22", filled:false},
    {t:time2s, v:aAlO2Rta, color:BLUE, filled:false}
  ]});
// panel b
const gB = drawPanel({x0:427, x1:723, xmax:200, xMajor:abXMajor, xMinor:abXMinor, r:3.2, sw:0.9, yLabels:false, tag:"(b)", tagX:717,
  series:[
    {t:time2s, v:bGaDep, color:BLACK, filled:true},
    {t:time2s, v:bAsDep, color:RED, filled:true},
    {t:time2s, v:bGaODep, color:BLUE, filled:true},
    {t:time2s, v:bAsODep, color:TEAL, filled:true},
    {t:time2s, v:bInDep, color:MAG, filled:true},
    {t:time2s, v:bInODep, color:OLIVE, filled:true},
    {pairs:bCyanPts, color:CYAN, filled:false},
    {pairs:bYellowPts, color:"#e6e600", filled:false},
    {pairs:bGreenPts, color:"#33cc33", filled:false},
    {pairs:bOrangePts, color:"#ff9900", filled:false},
    {t:time2s, v:bGaRta, color:GREY, filled:false},
    {t:time2s, v:bAsRta, color:RED, filled:false},
    {t:time2s, v:bGaORta, color:BLUE, filled:false},
    {t:time2s, v:bAsORta, color:TEAL, filled:false},
    {t:time2s, v:bInRta, color:MAG, filled:false},
    {t:time2s, v:bInORta, color:OLIVE, filled:false}
  ]});
// panel c
const gC = drawPanel({x0:773, x1:1072, xmax:321.5, xMajor:cXMajor, xMinor:cXMinor, r:4.5, sw:1.1, yLabels:false, tag:"(c)", tagX:1066,
  series:[
    {t:time3s, v:cAlO2, color:BLUE, filled:false},
    {t:time3s, v:cGa, color:GREY, filled:false},
    {t:time3s, v:cAs, color:RED, filled:false},
    {t:time3s, v:cGaO71, color:CYAN, filled:false},
    {t:time3s, v:cAsO, color:TEAL, filled:false},
    {t:time3s, v:cIn, color:MAG, filled:false},
    {t:time3s, v:cInO, color:OLIVE, filled:false},
    {t:time3s, v:cHfO, color:"#22dd22", filled:false}
  ]});

// ---------- legends ----------
function legText(g, x, yy, txt, size) { g.append("text").attr("x", x).attr("y", yy).attr("font-size", size).text(txt); }
function legMark(g, x, yy, color, filled, r) {
  g.append("circle").attr("cx", x).attr("cy", yy).attr("r", filled ? r : r - 0.5)
    .attr("fill", filled ? color : "none").attr("stroke", color).attr("stroke-width", filled ? 0 : 1.1);
}
// (a)
legText(gA, 89, 34, "as dep", 19.5); legText(gA, 162, 34, "RTA 700 °C", 19.5);
[["As",RED,RED],["HfO",GREEN,"#22dd22"],["AlO2",BLUE,BLUE]].forEach((d,i) => {
  const yy = [52,72,92.5][i];
  legMark(gA, 126, yy, d[1], true, 4.5); legMark(gA, 171, yy, d[2], false, 4.5);
  legText(gA, 193, yy + 6, d[0], 17.5);
});
// (b)
legText(gB, 438, 34, "as dep", 19.5); legText(gB, 521, 34, "RTA 700 °C", 19.5);
[["Ga",BLACK,"#555555"],["As",RED,RED],["71GaO",BLUE,BLUE],["AsO",TEAL,TEAL],["In",MAG,MAG],["InO",OLIVE,OLIVE]].forEach((d,i) => {
  const yy = 52 + i*20.8;
  legMark(gB, 461, yy, d[1], true, 3.2); legMark(gB, 514, yy, d[2], false, 3.4);
  legText(gB, 538, yy + 6, d[0], 17.5);
});
// (c)
[["AlO2",BLUE],["Ga",GREY],["As",RED],["71GaO",CYAN]].forEach((d,i) => {
  const yy = 25 + i*20.6; legMark(gC, 787, yy, d[1], false, 4); legText(gC, 803, yy + 6, d[0], 17.5);
});
[["AsO",TEAL],["In",MAG],["InO",OLIVE],["HfO","#22dd22"]].forEach((d,i) => {
  const yy = 25 + i*20.6; legMark(gC, 868, yy, d[1], false, 4); legText(gC, 888, yy + 6, d[0], 17.5);
});

// ---------- axis titles ----------
svg.append("text").attr("transform", "translate(32,229) rotate(-90)").attr("text-anchor","middle").attr("font-size", 23).text("Intensity (arb. units)");
svg.append("text").attr("x", 575).attr("y", 512).attr("text-anchor","middle").attr("font-size", 23).text("Sputtering time (s)");
</script>
</body></html>
